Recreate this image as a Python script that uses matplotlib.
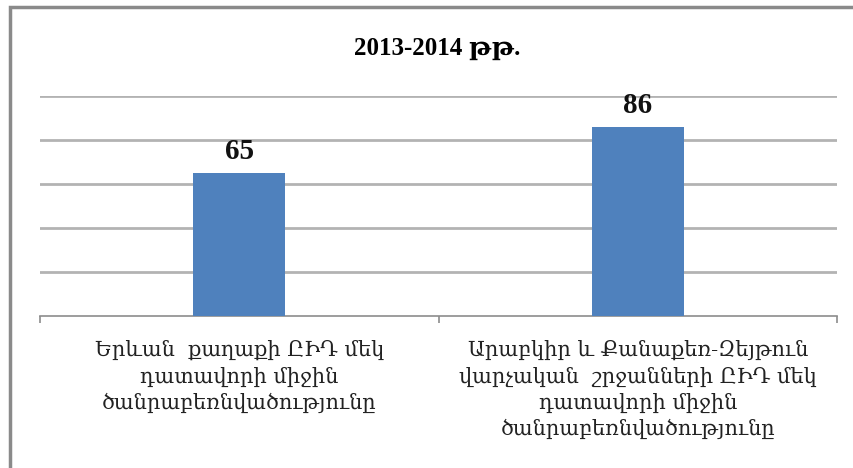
import matplotlib.pyplot as plt
from matplotlib.patches import Rectangle
from matplotlib.ticker import FixedLocator, NullFormatter

# data
categories = [
    'Երևան  քաղաքի ԸԻԴ մեկ\nդատավորի միջին\nծանրաբեռնվածությունը',
    'Արաբկիր և Քանաքեռ-Զեյթուն\nվարչական  շրջանների ԸԻԴ մեկ\nդատավորի միջին\nծանրաբեռնվածությունը',
]
values = [65, 86]
title = '2013-2014 թթ.'

# styles
barcolor = '#4f81bd'
gridcolor = '#b3b3b3'
serif_l = ['Liberation Serif', 'DejaVu Serif']
armenian_l = ['DejaVu Serif', 'DejaVu Sans']

fig = plt.figure(figsize=(8.54, 4.68), dpi=100)
ax = fig.add_axes([40/854, 1 - 316/468, 797/854, 220/468])

x_a = list(range(len(values)))
ax.bar(x_a, values, width=0.23, color=barcolor, zorder=3)

# value labels
for x, v in zip(x_a, values):
    ax.text(x, v + 3.5, str(v), ha='center', va='bottom',
            fontsize=21, fontweight='bold', family=serif_l, color='#111111')

ax.set_xlim(-0.5, len(values) - 0.5)
ax.set_ylim(0, 100)
ax.set_yticks(range(20, 101, 20))
ax.yaxis.grid(True, color=gridcolor, linewidth=2)
ax.tick_params(axis='y', length=0, labelleft=False)

# category ticks at boundaries, labels centred below
ax.xaxis.set_major_locator(FixedLocator([-0.5, 0.5, 1.5]))
ax.xaxis.set_major_formatter(NullFormatter())
ax.tick_params(axis='x', direction='out', length=5, color='#8c8c8c', width=1.2)
for x, lab in zip(x_a, categories):
    ax.text(x, -11, lab, ha='center', va='top', fontsize=15,
            family=armenian_l, color='#222222', linespacing=1.37,
            transform=ax.transData)

for side in ['left', 'right', 'top']:
    ax.spines[side].set_visible(False)
ax.spines['bottom'].set_color('#8c8c8c')
ax.spines['bottom'].set_linewidth(1.2)

fig.text(437/854, 1 - 48/468, title, ha='center', va='center',
         fontsize=18, fontweight='bold', family=serif_l)

# outer chart frame
fig.patches.append(Rectangle((10/854, -0.05), 1.0, 1 - 7/468 + 0.05,
                             transform=fig.transFigure, fill=False,
                             edgecolor='#8a8a8a', linewidth=2.5))

fig.savefig('out.png', dpi=100)
